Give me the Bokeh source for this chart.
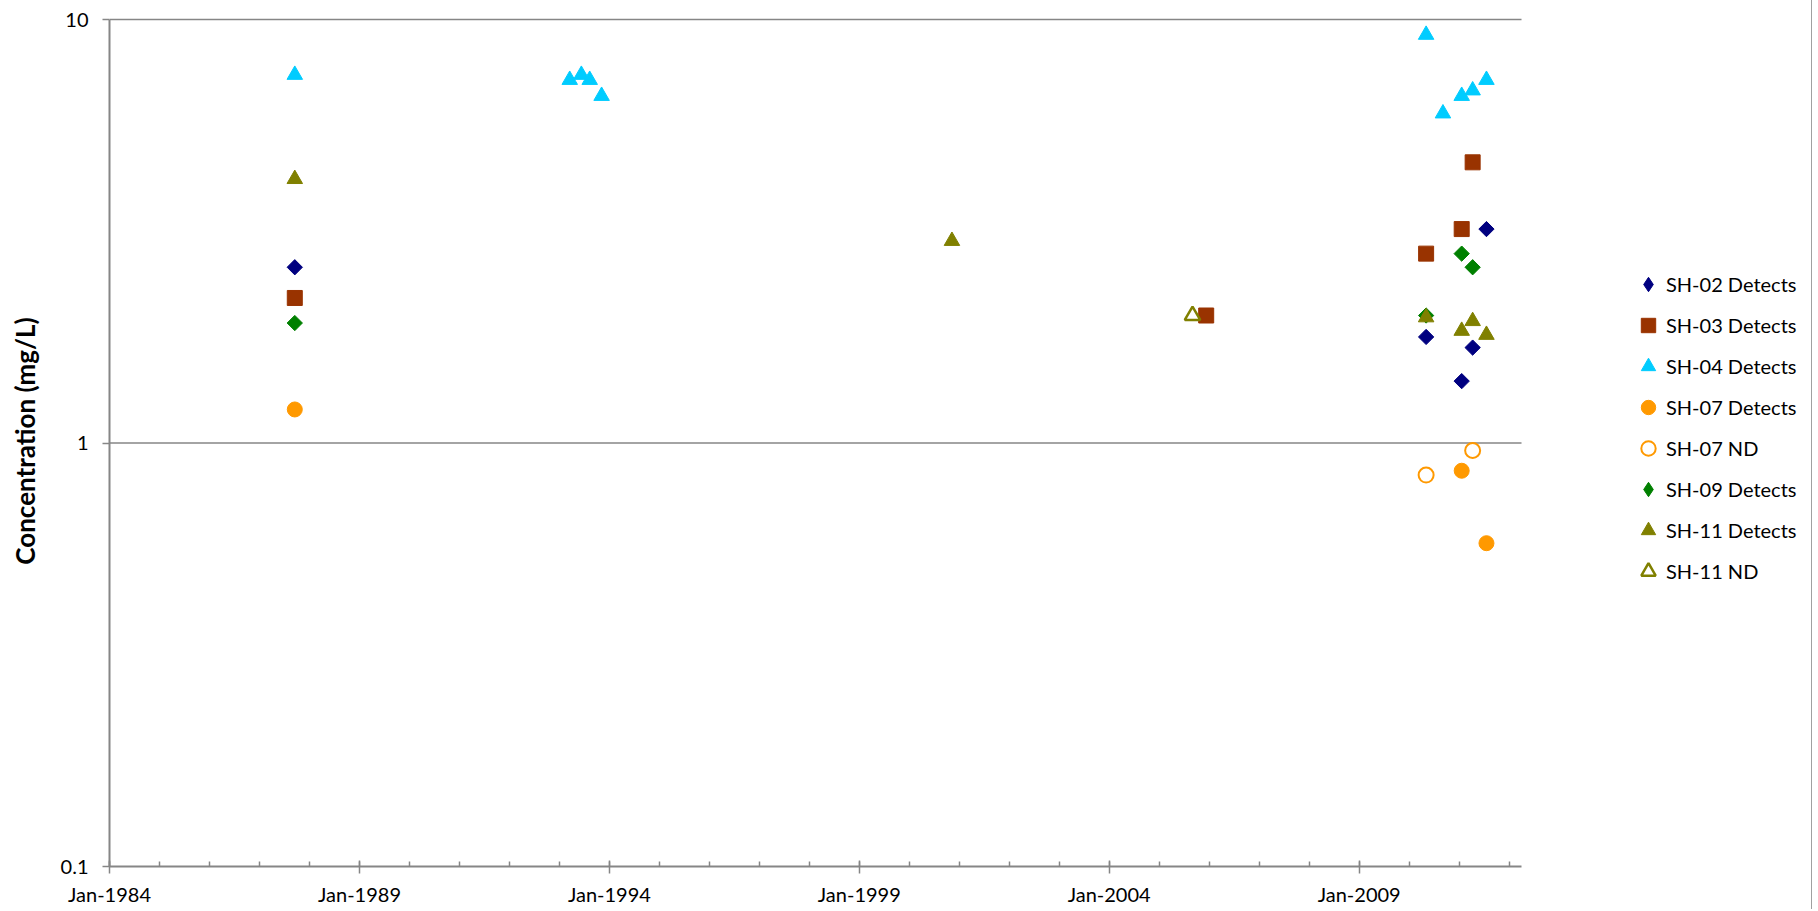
import numpy as np
from datetime import datetime
from bokeh.plotting import figure
from bokeh.models import (Range1d, FixedTicker, DatetimeTickFormatter,
                          CustomJSTickFormatter, Legend, LegendItem)
from bokeh.embed import file_html
from bokeh.resources import INLINE

# ---------------- data ----------------
sh02_dates = ["1987-09-16", "2010-05-05", "2011-01-20", "2011-04-10", "2011-07-20"]
sh02_vals = [2.6, 1.78, 1.40, 1.68, 3.2]

sh03_dates = ["1987-09-16", "2005-12-10", "2010-05-05", "2011-01-20", "2011-04-10"]
sh03_vals = [2.2, 2.0, 2.8, 3.2, 4.6]

sh04_dates = ["1987-09-16", "1993-03-17", "1993-06-10", "1993-08-10", "1993-11-05",
              "2010-05-05", "2010-09-05", "2011-01-20", "2011-04-10", "2011-07-20"]
sh04_vals = [7.4, 7.2, 7.4, 7.2, 6.6, 9.2, 6.0, 6.6, 6.8, 7.2]

sh07_dates = ["1987-09-16", "2011-01-20", "2011-07-20"]
sh07_vals = [1.2, 0.86, 0.58]

sh07nd_dates = ["2010-05-05", "2011-04-10"]
sh07nd_vals = [0.84, 0.96]

sh09_dates = ["1987-09-16", "2010-05-05", "2011-01-20", "2011-04-10"]
sh09_vals = [1.92, 2.0, 2.8, 2.6]

sh11_dates = ["1987-09-16", "2000-11-08", "2010-05-05", "2011-01-20", "2011-04-10", "2011-07-20"]
sh11_vals = [4.2, 3.0, 1.98, 1.84, 1.94, 1.80]

sh11nd_dates = ["2005-09-01"]
sh11nd_vals = [2.0]

series_labels = ["SH-02 Detects", "SH-03 Detects", "SH-04 Detects", "SH-07 Detects",
                 "SH-07 ND", "SH-09 Detects", "SH-11 Detects", "SH-11 ND"]

x_major_years = [1984, 1989, 1994, 1999, 2004, 2009]
x_minor_years = list(range(1984, 2013))
y_ticks = [0.1, 1, 10]
y_axis_title = "Concentration (mg/L)"

# ---------------- helpers ----------------
def to_dt(lst):
    return [datetime.fromisoformat(s) for s in lst]

def year_ms(y):
    return (datetime(y, 1, 1) - datetime(1970, 1, 1)).total_seconds() * 1000.0

FONT = "Lato"
GRAY = "#868686"

# layout (pixels)
W, H = 1812, 909
LEFT, TOP, BOTTOM = 109, 15, 43
AXIS_RIGHT = 1521            # where the x axis ends (the legend sits to its right)
TOP_PAD = 4                  # a little room above the 10 line

x_start = datetime(1984, 1, 1)
x_axis_end = datetime(2012, 4, 1)
x_range_end = x_start + (x_axis_end - x_start) * ((W - LEFT) / (AXIS_RIGHT - LEFT))
y_min, y_max = y_ticks[0], y_ticks[-1]
frame_h = H - TOP - BOTTOM
decade_px = (frame_h - TOP_PAD) / np.log10(y_max / y_min)
y_range_end = y_max * 10 ** (TOP_PAD / decade_px)

p = figure(width=W, height=H,
           x_axis_type="datetime", y_axis_type="log",
           x_range=Range1d(x_start, x_range_end),
           y_range=Range1d(y_min, y_range_end),
           output_backend="svg", toolbar_location=None,
           min_border_left=LEFT, min_border_top=TOP,
           min_border_right=0, min_border_bottom=BOTTOM,
           background_fill_color="white", border_fill_color="white")
p.outline_line_color = None
p.styles = {"border-right": "1px solid #a0a0a0"}

# axes
p.xaxis.ticker = FixedTicker(ticks=[year_ms(y) for y in x_major_years],
                             minor_ticks=[year_ms(y) for y in x_minor_years])
p.xaxis.formatter = DatetimeTickFormatter(
    microseconds="%b-%Y", milliseconds="%b-%Y", seconds="%b-%Y", minsec="%b-%Y",
    minutes="%b-%Y", hourmin="%b-%Y", hours="%b-%Y", days="%b-%Y",
    months="%b-%Y", years="%b-%Y")
p.xaxis.bounds = (x_start, x_axis_end)
p.yaxis.ticker = FixedTicker(ticks=y_ticks, minor_ticks=[])
p.yaxis.formatter = CustomJSTickFormatter(code="return tick.toString();")
p.yaxis.bounds = (y_min, y_max)

for ax in (p.xaxis[0], p.yaxis[0]):
    ax.axis_line_color = GRAY
    ax.axis_line_width = 2
    ax.major_tick_line_color = GRAY
    ax.major_tick_line_width = 1.5
    ax.minor_tick_line_color = GRAY
    ax.minor_tick_line_width = 1.5
    ax.major_label_text_font = FONT
    ax.major_label_text_font_size = "20px"
    ax.major_label_text_color = "black"

p.xaxis.major_tick_in = 6
p.xaxis.major_tick_out = 7
p.xaxis.minor_tick_in = 5
p.xaxis.minor_tick_out = 0
p.xaxis.major_label_standoff = 8

p.yaxis.major_tick_in = 0
p.yaxis.major_tick_out = 7
p.yaxis.major_label_standoff = 14
p.yaxis.axis_label = y_axis_title
p.yaxis.axis_label_text_font = FONT
p.yaxis.axis_label_text_font_size = "26px"
p.yaxis.axis_label_text_font_style = "bold"
p.yaxis.axis_label_text_color = "black"
p.yaxis.axis_label_standoff = 17

p.xgrid.grid_line_color = None
p.ygrid.grid_line_color = None
# horizontal gridlines at the major y ticks, limited to the axis extent
grid_vals = [v for v in y_ticks if v != y_min]
p.segment(x0=[x_start] * len(grid_vals), x1=[x_axis_end] * len(grid_vals),
          y0=grid_vals, y1=grid_vals, line_color=GRAY, line_width=1.5)

# ---------------- glyphs ----------------
DIAM = 10.8
r02 = p.scatter(to_dt(sh02_dates), sh02_vals, marker="square", angle=np.pi / 4, size=DIAM,
                fill_color="#000080", line_color="#000080")
r03 = p.scatter(to_dt(sh03_dates), sh03_vals, marker="square", size=15,
                fill_color="#993300", line_color="#993300")
r04 = p.scatter(to_dt(sh04_dates), sh04_vals, marker="triangle", size=15.5,
                fill_color="#00CCFF", line_color="#00CCFF")
r07 = p.scatter(to_dt(sh07_dates), sh07_vals, marker="circle", size=15,
                fill_color="#FF9900", line_color="#FF9900")
r07nd = p.scatter(to_dt(sh07nd_dates), sh07nd_vals, marker="circle", size=15,
                  fill_color=None, line_color="#FF9900", line_width=2)
r09 = p.scatter(to_dt(sh09_dates), sh09_vals, marker="square", angle=np.pi / 4, size=DIAM,
                fill_color="#008000", line_color="#008000")
r11 = p.scatter(to_dt(sh11_dates), sh11_vals, marker="triangle", size=15.5,
                fill_color="#808000", line_color="#808000")
r11nd = p.scatter(to_dt(sh11nd_dates), sh11nd_vals, marker="triangle", size=15.5,
                  fill_color=None, line_color="#808000", line_width=2.5)

# legend stand-ins for the rotated-square (diamond) series
l02 = p.scatter(to_dt(sh02_dates), sh02_vals, marker="diamond", size=15,
                fill_color="#000080", line_color="#000080", visible=False)
l09 = p.scatter(to_dt(sh09_dates), sh09_vals, marker="diamond", size=15,
                fill_color="#008000", line_color="#008000", visible=False)

legend_renderers = [l02, r03, r04, r07, r07nd, l09, r11, r11nd]
items = [LegendItem(label=lab, renderers=[r]) for lab, r in zip(series_labels, legend_renderers)]

legend = Legend(items=items, location=(1521, 277),
                glyph_width=36, glyph_height=36, spacing=5,
                label_standoff=0, label_text_font=FONT, label_text_font_size="20px",
                label_text_color="black", padding=0, margin=0,
                border_line_alpha=0, background_fill_alpha=0,
                inactive_fill_alpha=0, click_policy="none")
p.add_layout(legend)

open("out.html", "w").write(file_html(p, INLINE))
